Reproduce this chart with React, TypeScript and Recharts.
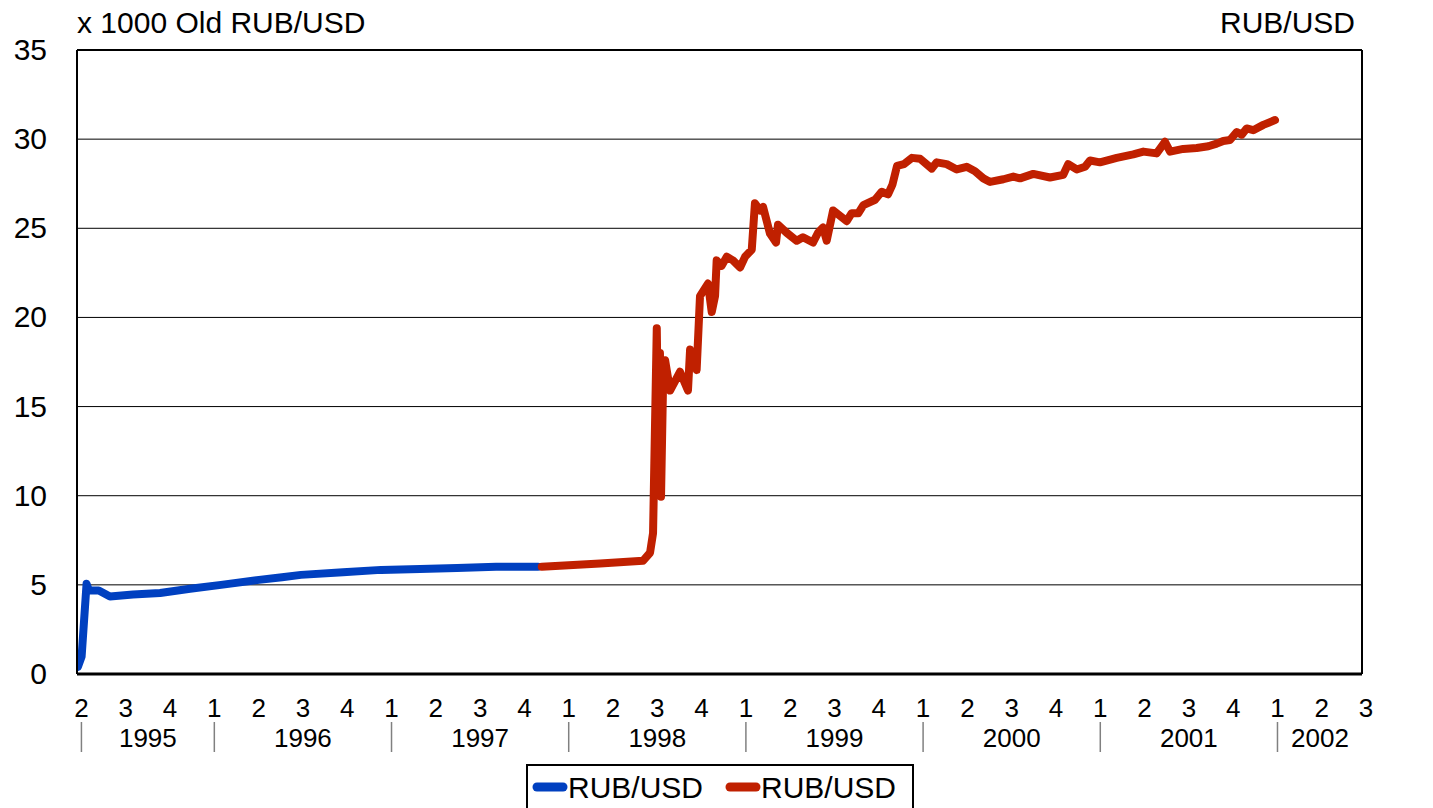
import React from 'react';
import { LineChart, Line, XAxis, YAxis, CartesianGrid, ReferenceLine } from 'recharts';

// thousand old roubles per USD, before the 1998 redenomination
const oldRubDates = [
  1995.23, 1995.251, 1995.279, 1995.293, 1995.348, 1995.411, 1995.541, 1995.694, 1995.863,
  1996.038, 1996.252, 1996.382, 1996.489, 1996.726, 1996.941, 1997.161, 1997.37, 1997.59, 1997.827,
];
const oldRubValues = [
  0.4, 0.97, 5.06, 4.68, 4.68, 4.35, 4.46, 4.54, 4.78,
  5.0, 5.28, 5.43, 5.56, 5.71, 5.84, 5.89, 5.95, 6.02, 6.02,
];

// new roubles per USD
const rubDates = [
  1997.848, 1998.177, 1998.419, 1998.459, 1998.476, 1998.497, 1998.507, 1998.515, 1998.521, 1998.532,
  1998.544, 1998.572, 1998.628, 1998.673, 1998.685, 1998.722, 1998.741, 1998.786, 1998.807, 1998.826,
  1998.835, 1998.863, 1998.892, 1998.927, 1998.967, 1998.995, 1999.033, 1999.051, 1999.08, 1999.097,
  1999.136, 1999.17, 1999.181, 1999.23, 1999.287, 1999.322, 1999.379, 1999.407, 1999.435, 1999.456,
  1999.492, 1999.569, 1999.597, 1999.634, 1999.663, 1999.729, 1999.766, 1999.802, 1999.827, 1999.853,
  1999.892, 1999.937, 1999.983, 2000.049, 2000.077, 2000.133, 2000.19, 2000.246, 2000.293, 2000.34,
  2000.378, 2000.453, 2000.509, 2000.547, 2000.622, 2000.716, 2000.791, 2000.819, 2000.867, 2000.914,
  2000.942, 2000.998, 2001.093, 2001.186, 2001.243, 2001.318, 2001.365, 2001.394, 2001.468, 2001.544,
  2001.61, 2001.657, 2001.694, 2001.732, 2001.77, 2001.798, 2001.826, 2001.863, 2001.92, 2001.986,
];
const rubValues = [
  6.02, 6.2, 6.35, 6.8, 7.9, 19.4, 12, 18, 9.94, 16,
  17.6, 15.9, 16.95, 15.9, 18.2, 17.05, 21.2, 21.9, 20.3, 21.2,
  23.2, 22.9, 23.4, 23.2, 22.8, 23.4, 23.8, 26.4, 26.0, 26.2,
  24.7, 24.2, 25.2, 24.75, 24.3, 24.5, 24.2, 24.75, 25.05, 24.3,
  26.0, 25.4, 25.85, 25.84, 26.3, 26.6, 27.05, 26.9, 27.45, 28.5,
  28.6, 28.95, 28.9, 28.35, 28.7, 28.6, 28.3, 28.45, 28.2, 27.8,
  27.6, 27.75, 27.9, 27.8, 28.05, 27.85, 28.0, 28.6, 28.3, 28.45,
  28.8, 28.7, 28.95, 29.15, 29.3, 29.2, 29.85, 29.3, 29.45, 29.5,
  29.6, 29.75, 29.9, 29.95, 30.4, 30.25, 30.6, 30.5, 30.8, 31.07,
];

const valueTicks = [0, 5, 10, 15, 20, 25, 30, 35];

const quarterTicks = [
  1995.25, 1995.5, 1995.75,
  1996, 1996.25, 1996.5, 1996.75,
  1997, 1997.25, 1997.5, 1997.75,
  1998, 1998.25, 1998.5, 1998.75,
  1999, 1999.25, 1999.5, 1999.75,
  2000, 2000.25, 2000.5, 2000.75,
  2001, 2001.25, 2001.5, 2001.75,
  2002, 2002.25, 2002.5,
];
const quarterLabels = [
  '2', '3', '4',
  '1', '2', '3', '4',
  '1', '2', '3', '4',
  '1', '2', '3', '4',
  '1', '2', '3', '4',
  '1', '2', '3', '4',
  '1', '2', '3', '4',
  '1', '2', '3',
];

const yearSeparators = [1995.25, 1996, 1997, 1998, 1999, 2000, 2001, 2002];
const yearCenters = [1995.625, 1996.5, 1997.5, 1998.5, 1999.5, 2000.5, 2001.5, 2002.24];
const yearLabels = ['1995', '1996', '1997', '1998', '1999', '2000', '2001', '2002'];

const oldRubData = oldRubDates.map((t, i) => ({ t, v: oldRubValues[i] }));
const rubData = rubDates.map((t, i) => ({ t, v: rubValues[i] }));

const FONT = '"Liberation Sans", Arial, sans-serif';
const BLUE = '#0040C0';
const RED = '#C02000';

const near = (a: number, b: number) => Math.abs(a - b) < 1e-6;

const QuarterTick = (props: any) => {
  const { x, y, payload } = props;
  const i = quarterTicks.findIndex(q => near(q, payload.value));
  return (
    <text x={x} y={y + 43} textAnchor="middle" fontSize={26} fontFamily={FONT} fill="#000">
      {quarterLabels[i]}
    </text>
  );
};

const YearTick = (props: any) => {
  const { x, y, payload } = props;
  if (yearSeparators.some(s => near(s, payload.value))) {
    return <line x1={x} x2={x} y1={y + 8} y2={y + 38} stroke="#808080" strokeWidth={1.5} />;
  }
  const i = yearCenters.findIndex(c => near(c, payload.value));
  return (
    <text x={x} y={y + 33} textAnchor="middle" fontSize={26} fontFamily={FONT} fill="#000">
      {yearLabels[i]}
    </text>
  );
};

const LeftTick = (props: any) => (
  <text x={props.x} y={props.y + 10} textAnchor="end" fontSize={30} fontFamily={FONT} fill="#000">
    {props.payload.value}
  </text>
);

const RightTick = (props: any) => (
  <text x={props.x} y={props.y + 10} textAnchor="start" fontSize={30} fontFamily={FONT} fill="#000">
    {props.payload.value}
  </text>
);

export default function App() {
  const domain: [number, number] = [1995.225, 2002.477];

  return (
    <div style={{ position: 'absolute', left: 0, top: 0, width: 1433, height: 808, background: '#fff', overflow: 'hidden' }}>
      <LineChart width={1433} height={808} margin={{ top: 50, right: 0, bottom: 0, left: 0 }}>
        <CartesianGrid horizontal vertical={false} stroke="#000" strokeWidth={1} />
        <XAxis
          dataKey="t"
          type="number"
          domain={domain}
          allowDataOverflow
          ticks={quarterTicks}
          interval={0}
          height={40}
          tickSize={0}
          tickMargin={0}
          tickLine={false}
          axisLine={{ stroke: '#000', strokeWidth: 3 }}
          tick={<QuarterTick />}
        />
        <XAxis
          xAxisId="year"
          dataKey="t"
          type="number"
          domain={domain}
          allowDataOverflow
          ticks={[...yearSeparators, ...yearCenters]}
          interval={0}
          height={94}
          tickSize={0}
          tickMargin={0}
          tickLine={false}
          axisLine={false}
          tick={<YearTick />}
        />
        <YAxis
          domain={[0, 35]}
          ticks={valueTicks}
          interval={0}
          width={77}
          tickSize={0}
          tickMargin={30}
          tickLine={false}
          axisLine={{ stroke: '#000', strokeWidth: 2 }}
          tick={<LeftTick />}
        />
        <YAxis
          yAxisId="right"
          orientation="right"
          domain={[0, 35]}
          ticks={valueTicks}
          interval={0}
          width={71}
          tickSize={0}
          tickMargin={28}
          tickLine={false}
          axisLine={{ stroke: '#000', strokeWidth: 2 }}
          tick={<RightTick />}
        />
        <ReferenceLine y={35} stroke="#000" strokeWidth={2} />
        <Line
          data={oldRubData}
          dataKey="v"
          type="linear"
          stroke={BLUE}
          strokeWidth={8}
          strokeLinecap="round"
          strokeLinejoin="round"
          dot={false}
          isAnimationActive={false}
        />
        <Line
          data={rubData}
          dataKey="v"
          type="linear"
          stroke={RED}
          strokeWidth={8}
          strokeLinecap="round"
          strokeLinejoin="round"
          dot={false}
          isAnimationActive={false}
        />
      </LineChart>

      <svg width={1433} height={808} style={{ position: 'absolute', left: 0, top: 0, pointerEvents: 'none' }}>
        <text x={77} y={33} fontSize={30} fontFamily={FONT} fill="#000">x 1000 Old RUB/USD</text>
        <text x={1355} y={33} fontSize={30} fontFamily={FONT} fill="#000" textAnchor="end">RUB/USD</text>

        <rect x={527} y={765} width={386} height={60} fill="#fff" stroke="#000" strokeWidth={2} />
        <line x1={537} x2={563} y1={787} y2={787} stroke={BLUE} strokeWidth={9} strokeLinecap="round" />
        <text x={568} y={798} fontSize={30} fontFamily={FONT} fill="#000">RUB/USD</text>
        <line x1={730} x2={756} y1={787} y2={787} stroke={RED} strokeWidth={9} strokeLinecap="round" />
        <text x={761} y={798} fontSize={30} fontFamily={FONT} fill="#000">RUB/USD</text>
      </svg>
    </div>
  );
}
